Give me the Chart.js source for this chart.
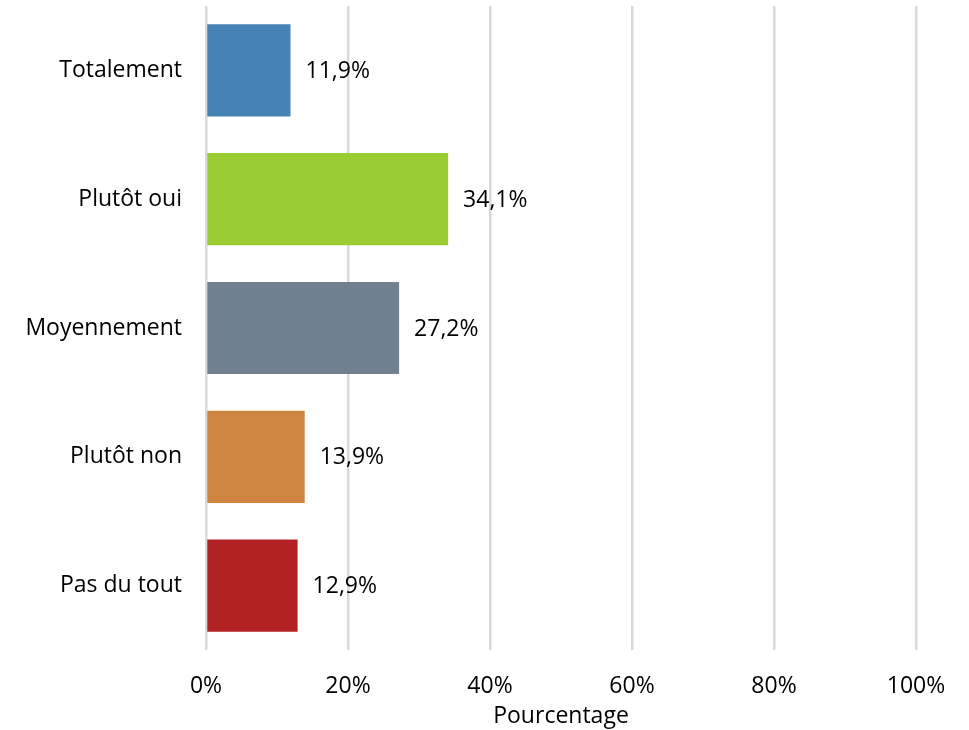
<!DOCTYPE html>
<html>
<head>
<meta charset="utf-8">
<script src="https://cdn.jsdelivr.net/npm/chart.js@4"></script>
<style>
  html, body { margin: 0; padding: 0; background: #fff; }
  #wrap { width: 969px; height: 730px; }
</style>
</head>
<body>
<div id="wrap"><canvas id="chart" width="969" height="730"></canvas></div>
<script>
// ── Data ─────────────────────────────────────────────────────────────
const categories = ['Totalement', 'Plutôt oui', 'Moyennement', 'Plutôt non', 'Pas du tout'];
const values     = [11.9, 34.1, 27.2, 13.9, 12.9];
const barColors  = ['#4682B4', '#9ACD32', '#708090', '#CD853F', '#B22222'];
const xTicks     = [0, 20, 40, 60, 80, 100];
const xTitle     = 'Pourcentage';

const FONT = '"Open Sans", "Noto Sans", sans-serif';
const FSIZE = 23;

// Draw value labels just right of each bar (French decimal comma)
const valueLabels = {
  id: 'valueLabels',
  afterDatasetsDraw(chart) {
    const ctx = chart.ctx;
    const meta = chart.getDatasetMeta(0);
    ctx.save();
    ctx.font = `${FSIZE}px ${FONT}`;
    ctx.fillStyle = '#000';
    ctx.textAlign = 'left';
    ctx.textBaseline = 'middle';
    meta.data.forEach((bar, i) => {
      const txt = values[i].toFixed(1).replace('.', ',') + '%';
      ctx.fillText(txt, bar.x + 15, bar.y + 1);
    });
    ctx.restore();
  }
};

new Chart(document.getElementById('chart'), {
  type: 'bar',
  data: {
    labels: categories,
    datasets: [{
      data: values,
      backgroundColor: barColors,
      borderWidth: 0,
      categoryPercentage: 0.716,
      barPercentage: 1,
    }],
  },
  options: {
    indexAxis: 'y',
    responsive: false,
    animation: false,
    layout: { padding: { top: 6, right: 53, left: 0, bottom: 0 } },
    plugins: {
      legend: { display: false },
      tooltip: { enabled: false },
    },
    scales: {
      x: {
        min: 0,
        max: 100,
        afterBuildTicks: axis => { axis.ticks = xTicks.map(v => ({ value: v })); },
        afterFit: axis => { axis.height = 80; },
        grid: { color: '#d9d9d9', lineWidth: 2.5, drawTicks: false },
        border: { display: false },
        ticks: {
          color: '#000',
          font: { family: FONT, size: FSIZE },
          padding: 23,
          callback: v => v + '%',
        },
        title: {
          display: true,
          text: xTitle,
          color: '#000',
          font: { family: FONT, size: FSIZE },
          padding: { top: 0, bottom: 0 },
        },
      },
      y: {
        afterFit: axis => { axis.width = 206; axis.paddingTop = 0; axis.paddingBottom = 0; },
        grid: { display: false, drawTicks: false },
        border: { display: false },
        ticks: {
          color: '#000',
          font: { family: FONT, size: FSIZE },
          padding: 24,
        },
      },
    },
  },
  plugins: [valueLabels],
});
</script>
</body>
</html>
